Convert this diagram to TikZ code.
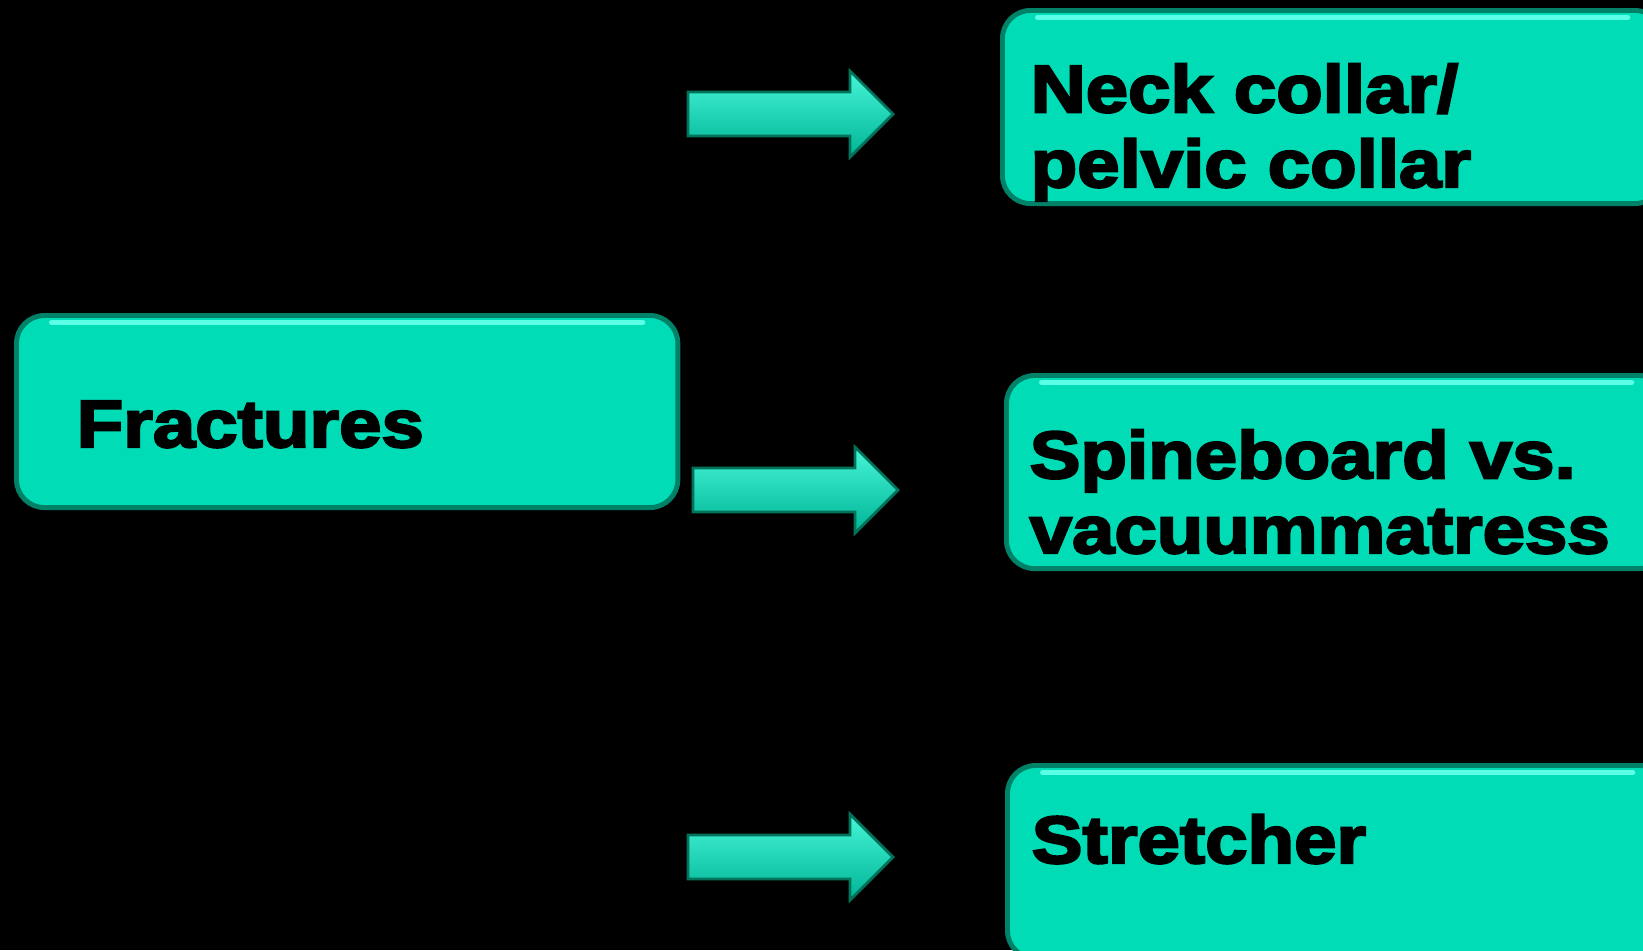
\documentclass[tikz,border=0pt]{standalone}
\usepackage{fontspec}
\newfontfamily\boxfont{Liberation Sans Bold}[FakeStretch=1.14,FakeBold=3.5]
\usetikzlibrary{positioning}
\definecolor{boxteal}{RGB}{0,221,182}
\definecolor{boxrim}{RGB}{0,130,105}
\definecolor{boxhi}{RGB}{90,255,230}
\definecolor{arrlight}{RGB}{70,245,215}
\definecolor{arrdark}{RGB}{0,180,150}
\definecolor{arrrim}{RGB}{0,115,90}

\begin{document}
\begin{tikzpicture}[x=0.01cm,y=-0.01cm,
    box/.style={draw=boxrim,fill=boxteal,line width=1.4pt,
                rounded corners=0.28cm,anchor=north west,inner sep=0pt,
                path picture={\draw[boxhi,line width=0.05cm,line cap=round]
                  ([xshift=0.35cm,yshift=-0.07cm]path picture bounding box.north west)
                  -- ([xshift=-0.35cm,yshift=-0.07cm]path picture bounding box.north east);}},
    boxtext/.style={font=\boxfont\fontsize{19pt}{21.3pt}\selectfont,
                    align=left,anchor=base west,inner sep=0pt},
    blockarrow/.style={draw=arrrim,line width=0.8pt,line join=miter,
                       top color=arrlight,bottom color=arrdark},
]

% black slide
\fill[black] (0,0) rectangle (1643,950);
\clip (0,0) rectangle (1643,950);

% boxes
\node[box,minimum width=6.61cm,minimum height=1.92cm] (FR) at (14,313) {};
\node[box,minimum width=6.6cm,minimum height=1.93cm]  (NC) at (1000,8) {};
\node[box,minimum width=6.6cm,minimum height=1.93cm]  (SB) at (1004,373) {};
\node[box,minimum width=6.6cm,minimum height=1.93cm]  (ST) at (1005,763) {};

% texts (base = last line)
\node[boxtext] (FRt) at ([shift={(62,134)}]FR.north west) {Fractures};
\node[boxtext] (NCt) at ([shift={(30,179)}]NC.north west) {Neck collar/\\pelvic collar};
\node[boxtext] (SBt) at ([shift={(25,180)}]SB.north west) {Spineboard vs.\\vacuummatress};
\node[boxtext] (STt) at ([shift={(26,100)}]ST.north west) {Stretcher};

% block arrows
\coordinate (A1) at (688,114);
\coordinate (A2) at (693,490);
\coordinate (A3) at (688,857);
\draw[blockarrow] (A1) ++(0,-22) -- ++(162,0) -- ++(0,-21) -- ++(43,43)
      -- ++(-43,43) -- ++(0,-21) -- ++(-162,0) -- cycle;
\draw[blockarrow] (A2) ++(0,-22) -- ++(162,0) -- ++(0,-21) -- ++(43,43)
      -- ++(-43,43) -- ++(0,-21) -- ++(-162,0) -- cycle;
\draw[blockarrow] (A3) ++(0,-22) -- ++(162,0) -- ++(0,-21) -- ++(43,43)
      -- ++(-43,43) -- ++(0,-21) -- ++(-162,0) -- cycle;

\end{tikzpicture}
\end{document}
